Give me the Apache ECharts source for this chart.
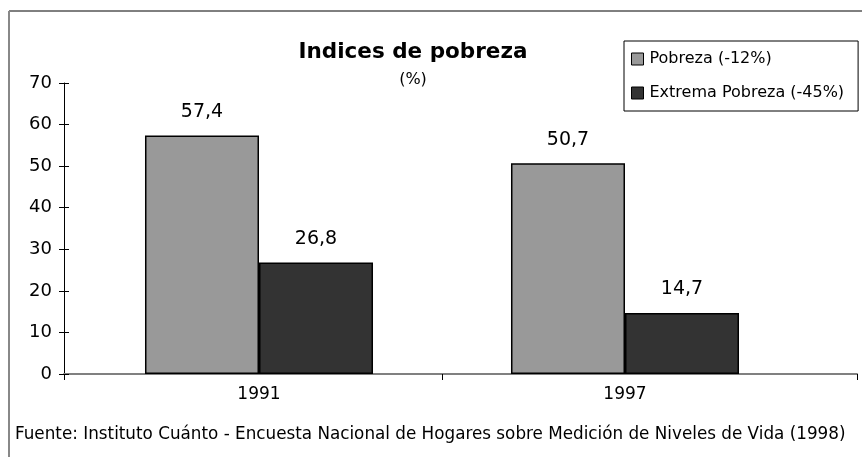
<!DOCTYPE html>
<html><head><meta charset="utf-8">
<script src="https://cdn.jsdelivr.net/npm/echarts@6/dist/echarts.min.js"></script>
<style>html,body{margin:0;padding:0;background:#fff}#c{width:862px;height:457px}</style>
</head><body><div id="c"></div>
<script>
const categories = ['1991', '1997'];
const pobreza = [57.4, 50.7];
const extrema = [26.8, 14.7];
const seriesNames = ['Pobreza (-12%)', 'Extrema Pobreza (-45%)'];
const yTicks = [0, 10, 20, 30, 40, 50, 60, 70];
const titleText = 'Indices de pobreza';
const subtitleText = '(%)';
const footerText = 'Fuente: Instituto Cuánto - Encuesta Nacional de Hogares sobre Medición de Niveles de Vida (1998)';
// horizontal axis line span, in category units (category centres at 0 and 1)
const axisSpan = [-0.533, 1.634];
const axisTickAt = [-0.533, 0.5, 1.634];

const font = 'DejaVu Sans';
const chart = echarts.init(document.getElementById('c'));
const fmt = p => String(p.value).replace('.', ',');
chart.setOption({
  animation: false,
  backgroundColor: '#fff',
  textStyle: { fontFamily: font },
  title: {
    text: titleText, subtext: subtitleText, left: 408, top: 36, textAlign: 'center',
    textStyle: { fontFamily: font, fontSize: 21.5, fontWeight: 'bold', color: '#000' },
    subtextStyle: { fontFamily: font, fontSize: 16, color: '#000' },
    itemGap: 9
  },
  legend: {
    orient: 'vertical', left: 624, top: 41,
    borderColor: '#000', borderWidth: 1, padding: [10, 14, 10, 7],
    itemGap: 18, itemWidth: 12, itemHeight: 12, icon: 'rect',
    itemStyle: { borderColor: '#000', borderWidth: 1 },
    textStyle: { fontFamily: font, fontSize: 16, color: '#000', padding: [0, 0, 0, 1] },
    data: seriesNames
  },
  grid: [
    { left: 64, right: 5, top: 83, bottom: 83 },
    { left: 76, right: 54, top: 83, bottom: 83 }
  ],
  xAxis: [
    { type: 'value', gridIndex: 0, min: axisSpan[0], max: axisSpan[1],
      axisLine: { show: true, onZero: false, lineStyle: { color: '#808080', width: 2 } },
      axisTick: { show: true, length: 6, customValues: axisTickAt, lineStyle: { color: '#000' } },
      axisLabel: { show: false }, splitLine: { show: false } },
    { type: 'category', gridIndex: 1, data: categories,
      axisLine: { show: false }, axisTick: { show: false },
      axisLabel: { fontFamily: font, fontSize: 17, color: '#000', margin: 12 } }
  ],
  yAxis: [
    { type: 'value', gridIndex: 0, min: 0, max: 70, interval: 10,
      axisLine: { show: true, onZero: false, lineStyle: { color: '#000' } },
      axisTick: { show: true, length: 5, lineStyle: { color: '#000' } },
      splitLine: { show: false },
      axisLabel: { fontFamily: font, fontSize: 18, color: '#000', margin: 12,
        formatter: v => yTicks.includes(v) ? String(v) : '' } },
    { type: 'value', gridIndex: 0, min: 0, max: 70, interval: 10, position: 'left',
      axisLine: { show: false, onZero: false },
      axisTick: { show: true, inside: true, length: 5, lineStyle: { color: '#000' } },
      splitLine: { show: false }, axisLabel: { show: false } },
    { type: 'value', gridIndex: 1, min: 0, max: 70, interval: 10, show: false }
  ],
  series: [
    { name: seriesNames[0], type: 'bar', xAxisIndex: 1, yAxisIndex: 2, data: pobreza,
      barGap: '0%', barCategoryGap: '37.7%',
      itemStyle: { color: '#999999', borderColor: '#000', borderWidth: 1.5 },
      label: { show: true, position: 'top', distance: 14, formatter: fmt, fontFamily: font, fontSize: 19, color: '#000' } },
    { name: seriesNames[1], type: 'bar', xAxisIndex: 1, yAxisIndex: 2, data: extrema,
      itemStyle: { color: '#333333', borderColor: '#000', borderWidth: 1.5 },
      label: { show: true, position: 'top', distance: 14, formatter: fmt, fontFamily: font, fontSize: 19, color: '#000' } }
  ],
  graphic: [
    { type: 'rect', shape: { x: 9, y: 11, width: 870, height: 470 }, style: { fill: 'none', stroke: '#000', lineWidth: 1 }, silent: true, z: -1 },
    { type: 'line', shape: { x1: 9, y1: 11, x2: 9, y2: 470 }, style: { stroke: '#888', lineWidth: 2 }, silent: true },
    { type: 'text', left: 15, top: 426, style: { text: footerText, fontFamily: font, fontSize: 16.8, fill: '#000' } }
  ]
});
</script></body></html>
